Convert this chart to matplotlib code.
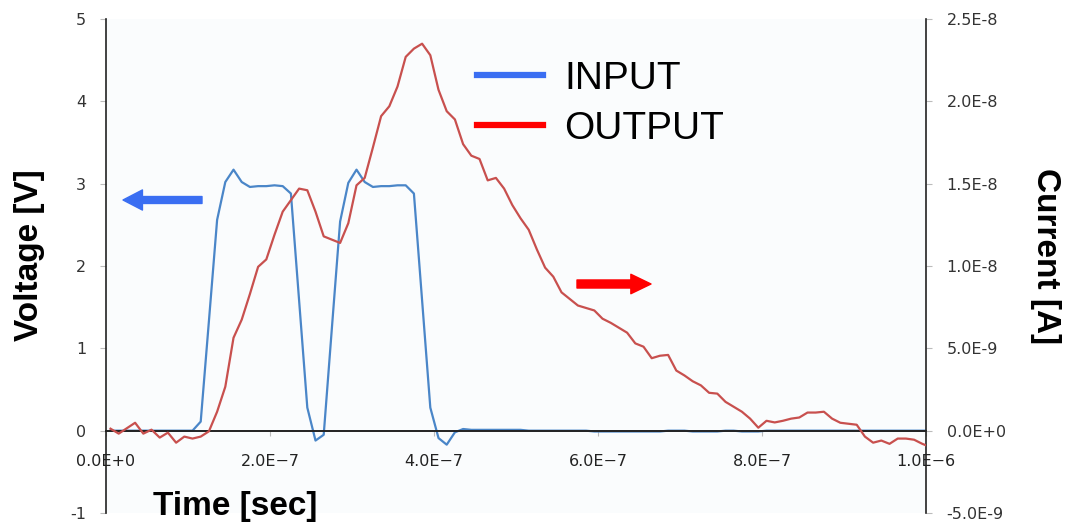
import numpy as np
import matplotlib
matplotlib.use("Agg")
import matplotlib.pyplot as plt
from matplotlib.lines import Line2D

# ---------------- data ----------------
time_start = 5.5e-9          # first sample time [s]
time_step = 1e-8             # sampling interval [s]

input_v = [
    0, 0, 0, 0, 0, 0, 0, 0, 0, 0,
    0, 0.11, 1.33, 2.56, 3.02, 3.17, 3.02, 2.96, 2.97, 2.97,
    2.98, 2.97, 2.88, 1.58, 0.28, -0.12, -0.05, 1.25, 2.54, 3.01,
    3.17, 3.02, 2.96, 2.97, 2.97, 2.98, 2.98, 2.88, 1.58, 0.28,
    -0.09, -0.17, -0.02, 0.02, 0.01, 0.01, 0.01, 0.01, 0.01, 0.01,
    0.01, 0.0, 0.0, 0.0, 0.0, 0.0, 0.0, 0.0, 0.0, -0.01,
    -0.01, -0.01, -0.01, -0.01, -0.01, -0.01, -0.01, -0.01, 0.0, 0.0,
    0.0, -0.01, -0.01, -0.01, -0.01, 0.0, 0.0, -0.01, -0.01, -0.01,
    0.0, 0.0, 0.0, 0.0, 0.0, 0.0, 0.0, 0.0, 0.0, 0.0,
    0.0, 0.0, 0.0, 0.0, 0.0, 0.0, 0.0, 0.0, 0.0, 0.0,
    0.0,
]

output_na = [   # output current in nA
    0.12, -0.18, 0.15, 0.48, -0.18, 0.06, -0.42, -0.12, -0.73, -0.36,
    -0.48, -0.36, -0.04, 1.15, 2.67, 5.64, 6.74, 8.3, 9.95, 10.4,
    11.9, 13.3, 14.0, 14.7, 14.6, 13.3, 11.8, 11.6, 11.4, 12.6,
    14.9, 15.35, 17.2, 19.1, 19.7, 20.9, 22.7, 23.2, 23.5, 22.8,
    20.7, 19.4, 18.9, 17.4, 16.7, 16.5, 15.2, 15.35, 14.7, 13.7,
    12.9, 12.2, 11.0, 9.9, 9.35, 8.4, 8.0, 7.6, 7.45, 7.3,
    6.8, 6.55, 6.25, 5.95, 5.3, 5.1, 4.4, 4.55, 4.6, 3.65,
    3.35, 3.0, 2.75, 2.3, 2.25, 1.75, 1.45, 1.15, 0.73, 0.18,
    0.6, 0.5, 0.6, 0.73, 0.8, 1.1, 1.1, 1.15, 0.73, 0.48,
    0.42, 0.36, -0.36, -0.73, -0.6, -0.8, -0.48, -0.48, -0.55, -0.8,
    -1.0,
]

x_ticks = [0, 2e-7, 4e-7, 6e-7, 8e-7, 1e-6]
x_tick_labels = ["0.0E+0", "2.0E\u22127", "4.0E\u22127", "6.0E\u22127", "8.0E\u22127", "1.0E\u22126"]
v_ticks = [-1, 0, 1, 2, 3, 4, 5]
v_tick_labels = ["-1", "0", "1", "2", "3", "4", "5"]
i_ticks = [-5e-9, 0, 5e-9, 1e-8, 1.5e-8, 2e-8, 2.5e-8]
i_tick_labels = ["-5.0E-9", "0.0E+0", "5.0E-9", "1.0E-8", "1.5E-8", "2.0E-8", "2.5E-8"]

series_names = ["INPUT", "OUTPUT"]

# ---------------- figure ----------------
t = time_start + np.arange(len(input_v)) * time_step
current = np.array(output_na) * 1e-9

fig = plt.figure(figsize=(10.7, 5.29), dpi=100)
fig.patch.set_facecolor("white")
ax = fig.add_axes([106 / 1070, 16 / 529, 820 / 1070, 494 / 529])
ax.set_facecolor("#fafcfd")
ax2 = ax.twinx()
ax2.patch.set_visible(False)

ax.plot(t, input_v, color="#4a86c8", lw=1.6, zorder=3)
ax2.plot(t, current, color="#c8504e", lw=1.6, zorder=3)

ax.set_xlim(0, 1e-6)
ax.set_ylim(-1, 5)
ax2.set_ylim(-5e-9, 2.5e-8)

# spines
for s in ["top", "right"]:
    ax.spines[s].set_visible(False)
ax.spines["bottom"].set_position(("data", 0))
ax.spines["bottom"].set_color("#222222")
ax.spines["bottom"].set_linewidth(1.4)
ax.spines["bottom"].set_zorder(4)
ax.spines["left"].set_color("#222222")
ax.spines["left"].set_linewidth(1.2)
for s in ["top", "left", "bottom"]:
    ax2.spines[s].set_visible(False)
ax2.spines["right"].set_color("#222222")
ax2.spines["right"].set_linewidth(1.2)

tick_font = dict(family="DejaVu Sans", size=11.5)
ax.set_xticks(x_ticks)
ax.set_xticklabels(x_tick_labels, fontdict=tick_font, color="#222222")
ax.set_yticks(v_ticks)
ax.set_yticklabels(v_tick_labels, fontdict=tick_font, color="#333333")
ax2.set_yticks(i_ticks)
ax2.set_yticklabels(i_tick_labels, fontdict=tick_font, color="#333333")

ax.tick_params(axis="x", direction="out", length=3.6, width=0.8, color="#bbbbbb", pad=13)
ax.tick_params(axis="y", direction="out", length=4.3, width=0.8, color="#bbbbbb", pad=10)
ax2.tick_params(axis="y", direction="out", length=4.3, width=0.8, color="#bbbbbb", pad=10.5)

# axis titles
lab = dict(family="Liberation Sans", weight="bold", size=24, color="black")
fig.text(30 / 1070, 1 - 255 / 529, "Voltage [V]", rotation=90, ha="center", va="center", **lab)
fig.text(1046 / 1070, 1 - 256 / 529, "Current [A]", rotation=270, ha="center", va="center", **lab)
fig.text(235 / 1070, 1 - 506 / 529, "Time [sec]", ha="center", va="center", **lab)

# legend
handles = [Line2D([], [], color="#3a6ef2", lw=4.5),
           Line2D([], [], color="#ff0000", lw=4.5)]
leg = fig.legend(handles, series_names, loc="upper left",
                 bbox_to_anchor=(477 / 1070, 1 - 61 / 529),
                 frameon=False, borderpad=0, borderaxespad=0,
                 handlelength=1.7, handletextpad=0.55, labelspacing=0.36,
                 prop=dict(family="Liberation Sans", size=28))

# direction arrows
ax.annotate("", xy=(123, 529 - 200), xytext=(202, 529 - 200),
            xycoords="figure pixels", textcoords="figure pixels",
            arrowprops=dict(arrowstyle="simple,head_length=1.4,head_width=1.45,tail_width=0.5",
                            color="#3a6ef2", mutation_scale=10, shrinkA=0, shrinkB=0))
ax.annotate("", xy=(651, 529 - 284), xytext=(577, 529 - 284),
            xycoords="figure pixels", textcoords="figure pixels",
            arrowprops=dict(arrowstyle="simple,head_length=1.45,head_width=1.4,tail_width=0.58",
                            color="#ff0000", mutation_scale=10, shrinkA=0, shrinkB=0))

fig.savefig("out.png", dpi=100)
